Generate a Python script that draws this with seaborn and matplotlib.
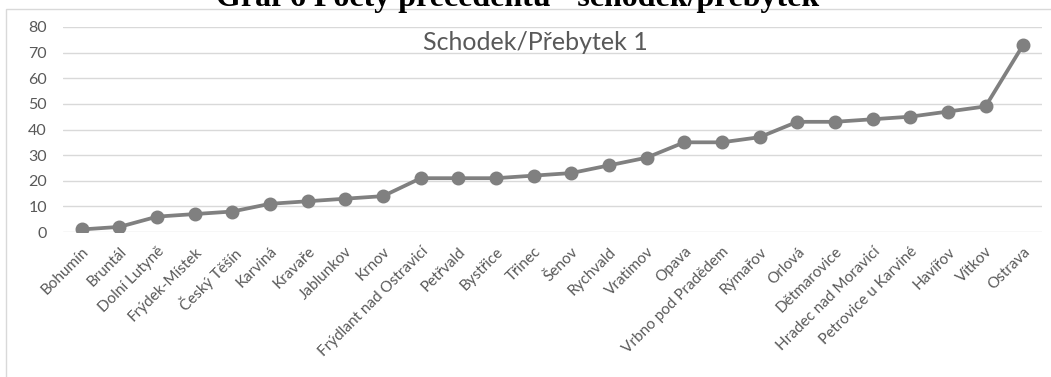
import matplotlib
matplotlib.use("Agg")
import matplotlib.pyplot as plt
import seaborn as sns
import pandas as pd
from matplotlib.patches import Rectangle

obce = [
    "Bohumín", "Bruntál", "Dolní Lutyně", "Frýdek-Místek", "Český Těšín",
    "Karviná", "Kravaře", "Jablunkov", "Krnov", "Frýdlant nad Ostravicí",
    "Petřvald", "Bystřice", "Třinec", "Šenov", "Rychvald", "Vratimov",
    "Opava", "Vrbno pod Pradědem", "Rýmařov", "Orlová", "Dětmarovice",
    "Hradec nad Moravicí", "Petrovice u Karviné", "Havířov", "Vítkov", "Ostrava",
]
schodek_prebytek = [
    1, 2, 6, 7, 8, 11, 12, 13, 14, 21, 21, 21, 22, 23, 26, 29,
    35, 35, 37, 43, 43, 44, 45, 47, 49, 73,
]
y_ticks = [0, 10, 20, 30, 40, 50, 60, 70, 80]

df = pd.DataFrame({"obec": obce, "hodnota": schodek_prebytek})

sns.set_theme(style="white")
plt.rcParams["font.family"] = ["Lato", "DejaVu Sans"]

W, H = 1051, 377
fig = plt.figure(figsize=(W / 100, H / 100), dpi=100)
ax = fig.add_axes([63 / W, 1 - 232 / H, (1042 - 63) / W, (232 - 27) / H])

line_col = "#808080"
text_col = "#595959"

sns.pointplot(
    data=df, x="obec", y="hodnota", ax=ax, color=line_col,
    markers="o", markersize=8, linewidth=2.7, errorbar=None,
)

ax.set_ylim(0, 80)
ax.set_xlim(-0.5, len(obce) - 0.5)
ax.set_yticks(y_ticks)
ax.yaxis.grid(True, color="#d9d9d9", linewidth=1.0)
ax.set_axisbelow(True)
for s in ax.spines.values():
    s.set_visible(False)
ax.set_xlabel("")
ax.set_ylabel("")
ax.tick_params(axis="y", length=0, pad=11.5, labelsize=11.5, labelcolor=text_col)
ax.tick_params(axis="x", length=0, pad=9, labelsize=11, labelcolor=text_col)
for lab in ax.get_xticklabels():
    lab.set_rotation(45)
    lab.set_ha("right")
    lab.set_rotation_mode("anchor")

ax.text(0.482, 0.925, "Schodek/Přebytek 1", transform=ax.transAxes,
        ha="center", va="center", fontsize=18, color=text_col)

# outer chart frame
fig.patches.append(Rectangle((6 / W, -0.1), 1.2, 1 - 9 / H + 0.1,
                             transform=fig.transFigure, fill=False,
                             edgecolor="#d9d9d9", linewidth=1.0))

# caption above the chart frame
fig.text(518 / W, 1 - 6 / H, "Graf 6 Počty precedentů - schodek/přebytek",
         ha="center", va="baseline", fontsize=23, fontweight="bold",
         family="Liberation Serif", color="black")

fig.savefig("out.png", dpi=100)
